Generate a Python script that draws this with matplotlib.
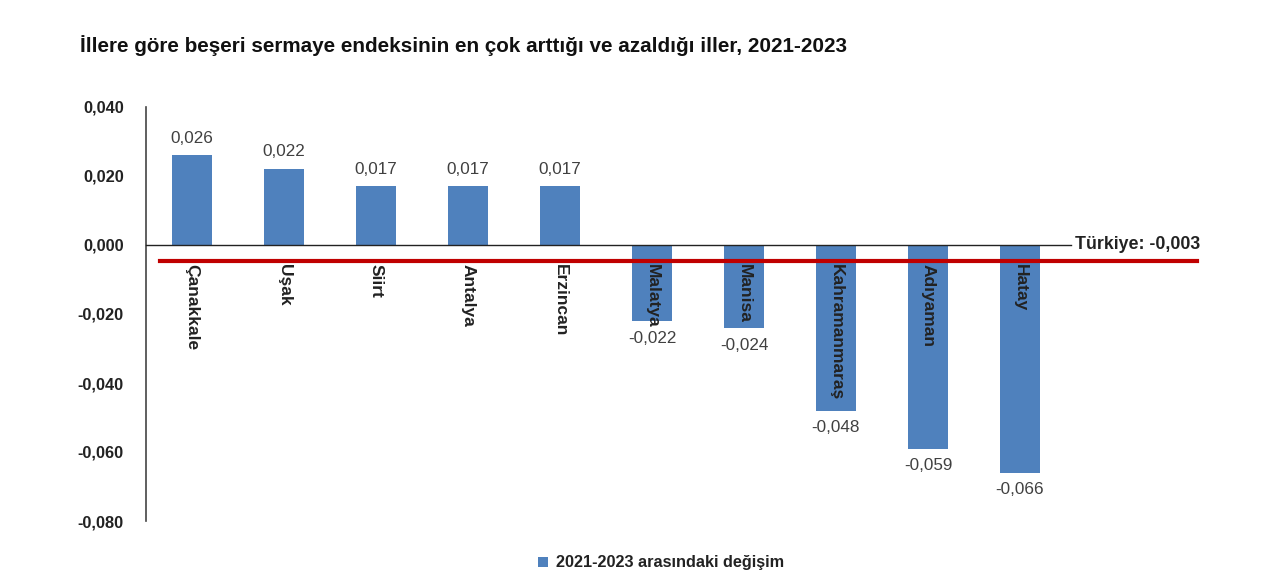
import matplotlib
matplotlib.use("Agg")
import matplotlib.pyplot as plt
import matplotlib.transforms as mtransforms
from matplotlib.patches import Patch

title = "İllere göre beşeri sermaye endeksinin en çok arttığı ve azaldığı iller, 2021-2023"
provinces = ["Çanakkale", "Uşak", "Siirt", "Antalya", "Erzincan",
             "Malatya", "Manisa", "Kahramanmaraş", "Adıyaman", "Hatay"]
changes = [0.026, 0.022, 0.017, 0.017, 0.017,
           -0.022, -0.024, -0.048, -0.059, -0.066]
turkiye_value = -0.003
y_ticks = [0.040, 0.020, 0.000, -0.020, -0.040, -0.060, -0.080]
legend_label = "2021-2023 arasındaki değişim"

def tr(v):
    return f"{v:.3f}".replace(".", ",")

plt.rcParams['font.family'] = ['Liberation Sans', 'DejaVu Sans']

fig = plt.figure(figsize=(12.8, 5.79), dpi=100)
ax = fig.add_axes([146/1280, 1-521/579, (1066-146)/1280, (521-107)/579])

bar_color = "#4F81BD"
x = list(range(len(provinces)))
ax.bar(x, changes, width=0.44, color=bar_color, zorder=2)

ax.set_xlim(-0.5, len(provinces) - 0.5)
ax.set_ylim(-0.080, 0.040)
ax.set_yticks(y_ticks)
ax.set_yticklabels([tr(v) for v in y_ticks], fontsize=11.8, fontweight='bold', color='#222222')
ax.tick_params(axis='y', length=0, pad=16)
ax.set_xticks([])
for s in ['top', 'right', 'bottom']:
    ax.spines[s].set_visible(False)
ax.spines['left'].set_color('#444444')
ax.spines['left'].set_linewidth(1.2)

# zero line
ax.plot([-0.5, len(provinces) - 0.45], [0, 0], color='#222222', lw=1.0, zorder=3, clip_on=False)

# Turkiye average line (extends beyond axes)
blend = mtransforms.blended_transform_factory(fig.transFigure, ax.transData)
ax.plot([160/1280, 1197/1280], [turkiye_value - 0.0017, turkiye_value - 0.0017],
        transform=blend, color='#C00000', lw=3, zorder=4, clip_on=False)
ax.text(1075/1280, 0.0, f"Türkiye: {tr(turkiye_value)}", transform=blend,
        fontsize=12.8, fontweight='bold', color='#222222', va='center', ha='left')

# value labels
for xi, v in zip(x, changes):
    if v >= 0:
        ax.annotate(tr(v), (xi, v), xytext=(0, 7), textcoords='offset points',
                    ha='center', va='bottom', fontsize=12.3, color='#404040')
    else:
        ax.annotate(tr(v), (xi, v), xytext=(0, -7), textcoords='offset points',
                    ha='center', va='top', fontsize=12.3, color='#404040')

# category labels (rotated, below zero line)
for xi, name in zip(x, provinces):
    ax.annotate(name, (xi, 0), xytext=(0, -14), textcoords='offset points',
                rotation=-90, ha='center', va='top', fontsize=12.5,
                fontweight='bold', color='#222222', zorder=5)

fig.text(80/1280, 1-46/579, title, fontsize=14.9, fontweight='bold', color='#111111',
         va='center', ha='left')

leg = fig.legend(handles=[Patch(facecolor=bar_color, label=legend_label)],
                 loc='center', bbox_to_anchor=(661/1280, 1-563/579), frameon=False,
                 prop={'weight': 'bold', 'size': 11.7}, handlelength=0.6, handleheight=0.6,
                 handletextpad=0.5)
for t in leg.get_texts():
    t.set_color('#222222')

fig.savefig("out.png", dpi=100, facecolor='white')
